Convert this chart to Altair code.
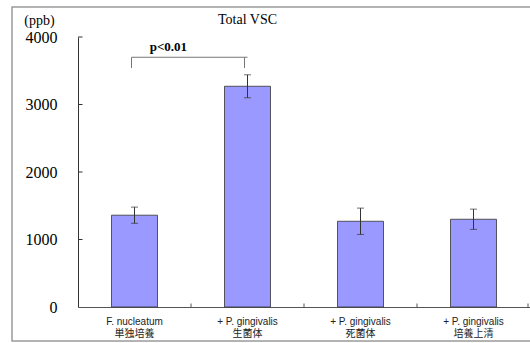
import altair as alt
import pandas as pd

categories = ["F. nucleatum\n単独培養", "+ P. gingivalis\n生菌体", "+ P. gingivalis\n死菌体", "+ P. gingivalis\n培養上清"]
values = [1360, 3270, 1270, 1300]
errors = [120, 170, 195, 150]
y_ticks = [1000, 2000, 3000, 4000]
sig_label = "p<0.01"
sig_top = 3700
sig_leg_bottom = 3540
sig_text_y = 3850
chart_title = "Total VSC"

df = pd.DataFrame({"cat": categories, "v": values, "lo": [v - e for v, e in zip(values, errors)],
                   "hi": [v + e for v, e in zip(values, errors)]})

xscale = alt.Scale(domain=categories, paddingInner=0, paddingOuter=0)
yscale = alt.Scale(domain=[0, 4000])


def X(**kw):
    return alt.X("cat:N", scale=xscale, sort=categories, **kw)


base = alt.Chart(df)

bars = base.mark_bar(width=alt.RelativeBandSize(0.407), color="#9999FF", stroke="#333333",
                     strokeWidth=0.8).encode(
    x=X(axis=alt.Axis(title=None, labelAngle=0, ticks=False, tickSize=0, labelPadding=9,
                      labelExpr="split(datum.label, '\\n')", labelLineHeight=12,
                      labelFont="Liberation Sans, 'Noto Sans CJK JP'", labelFontSize=10,
                      labelColor="#222222", domainColor="#555555", domainWidth=1)),
    y=alt.Y("v:Q", scale=yscale,
            axis=alt.Axis(values=[0] + y_ticks, format="d", ticks=False, tickSize=0, labelPadding=21,
                          labelFont="Liberation Serif", labelFontSize=16, labelColor="#000000",
                          domainColor="#333333", domainWidth=1, grid=False,
                          title="(ppb)", titleAngle=0, titleX=-39, titleY=-17, titleAlign="center",
                          titleBaseline="middle", titleFont="Liberation Serif", titleFontSize=14,
                          titleFontWeight="normal", titleColor="#000000")),
)

err = base.mark_rule(color="#333333", strokeWidth=1).encode(x=X(), y=alt.Y("lo:Q", scale=yscale), y2="hi:Q")
cap_lo = base.mark_tick(color="#333333", thickness=1, size=7).encode(x=X(), y=alt.Y("lo:Q", scale=yscale))
cap_hi = base.mark_tick(color="#333333", thickness=1, size=7).encode(x=X(), y=alt.Y("hi:Q", scale=yscale))

xt = alt.Chart(pd.DataFrame({"cat": categories[1:]})).mark_rule(color="#555555").encode(
    x=X(bandPosition=0), y=alt.value(270), y2=alt.value(266.5))
xt_end = alt.Chart(pd.DataFrame({"cat": categories[-1:]})).mark_rule(color="#555555", xOffset=-2).encode(
    x=X(bandPosition=1), y=alt.value(270), y2=alt.value(266.5))
yt = alt.Chart(pd.DataFrame({"t": y_ticks})).mark_rule(color="#333333").encode(
    y=alt.Y("t:Q", scale=yscale), x=alt.value(0), x2=alt.value(4.5))

br_df = pd.DataFrame({"a": [categories[0]], "b": [categories[1]], "top": [sig_top]})
br_h = alt.Chart(br_df).mark_rule(color="#777777", xOffset=-3).encode(
    x=alt.X("a:N", scale=xscale, sort=categories), x2="b:N", y=alt.Y("top:Q", scale=yscale))
leg_df = pd.DataFrame({"cat": categories[:2], "lo": [sig_leg_bottom] * 2, "hi": [sig_top] * 2})
br_l = alt.Chart(leg_df).mark_rule(color="#777777", xOffset=-3).encode(
    x=X(), y=alt.Y("lo:Q", scale=yscale), y2="hi:Q")
sig = alt.Chart(pd.DataFrame({"cat": [categories[0]], "y": [sig_text_y], "t": [sig_label]})).mark_text(
    font="Liberation Serif", fontSize=13, fontWeight="bold", color="#000000").encode(
    x=X(bandPosition=0.8), y=alt.Y("y:Q", scale=yscale), text="t:N")

title = alt.Chart(pd.DataFrame({"t": [chart_title]})).mark_text(
    font="Liberation Serif", fontSize=14, color="#000000", align="center", baseline="middle").encode(
    x=alt.value(169.5), y=alt.value(-17), text="t:N")

frame = alt.Chart(pd.DataFrame({"k": [0]})).mark_rect(fill=None, fillOpacity=0, stroke="#9a9a9a",
                                                       strokeWidth=1.5).encode(
    x=alt.value(-66), x2=alt.value(480), y=alt.value(-30), y2=alt.value(304))

chart = alt.layer(frame, bars, err, cap_lo, cap_hi, xt, xt_end, yt, br_h, br_l, sig, title).properties(
    width=452, height=270,
    autosize=alt.AutoSizeParams(type="none"),
    padding={"left": 78, "top": 37, "right": 0, "bottom": 36},
).configure_view(stroke=None).configure_axis(grid=False)

chart.save("out.html", embed_options={"renderer": "svg", "actions": False})
